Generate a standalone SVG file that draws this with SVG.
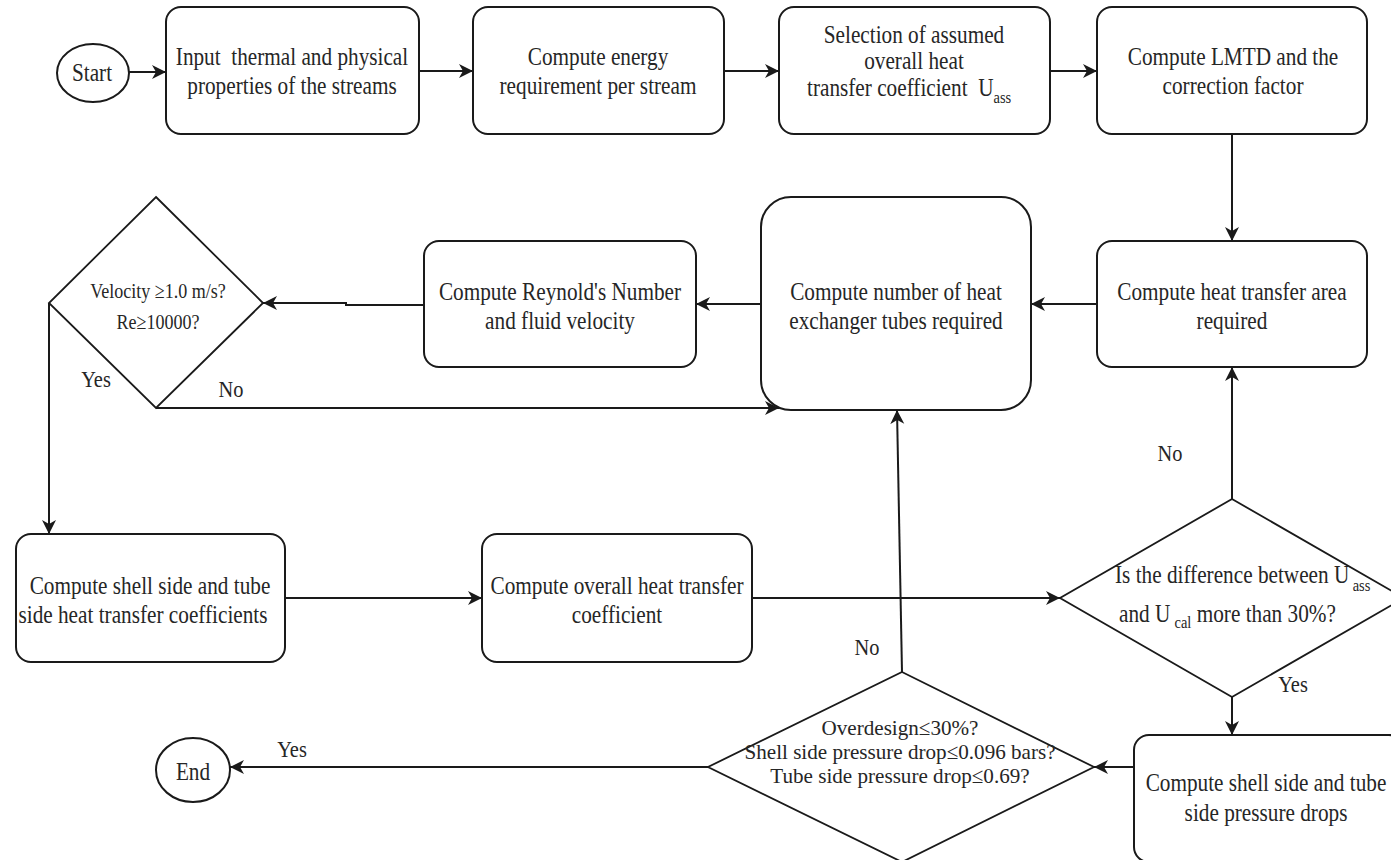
<svg xmlns="http://www.w3.org/2000/svg" width="1391" height="860" viewBox="0 0 1391 860">
  <style>
    .box{fill:#fff;stroke:#1a1a1a;stroke-width:2}
    .dia{fill:#fff;stroke:#1a1a1a;stroke-width:1.8}
    .edge{fill:none;stroke:#1a1a1a;stroke-width:2}
    .t{font-family:"Liberation Serif","Times New Roman","DejaVu Serif",serif;font-size:25px;fill:#262626;text-anchor:middle}
    .st{text-anchor:start}
    .sm{font-size:22px}
    .lbl{font-size:24px}
    .sub{font-size:17px}
  </style>
  <defs>
    <marker id="arr" markerWidth="15" markerHeight="15" refX="14" refY="7" orient="auto" markerUnits="userSpaceOnUse">
      <path d="M0,0 L14,7 L0,14 L4,7 Z" fill="#1a1a1a"/>
    </marker>
  </defs>

  <!-- connectors -->
  <g id="edges">
    <path class="edge" d="M129,72 H166" marker-end="url(#arr)"/>
    <path class="edge" d="M419,71 H473" marker-end="url(#arr)"/>
    <path class="edge" d="M724,71 H779" marker-end="url(#arr)"/>
    <path class="edge" d="M1050,71 H1097" marker-end="url(#arr)"/>
    <path class="edge" d="M1232,134 V241" marker-end="url(#arr)"/>
    <path class="edge" d="M1097,304 H1031" marker-end="url(#arr)"/>
    <path class="edge" d="M761,304 H696" marker-end="url(#arr)"/>
    <path class="edge" d="M424,305 H346 V303 H263" marker-end="url(#arr)"/>
    <path class="edge" d="M156,408 H779" marker-end="url(#arr)"/>
    <path class="edge" d="M49,303 V534" marker-end="url(#arr)"/>
    <path class="edge" d="M285,598 H482" marker-end="url(#arr)"/>
    <path class="edge" d="M752,598 H1060" marker-end="url(#arr)"/>
    <path class="edge" d="M1232,499 V367" marker-end="url(#arr)"/>
    <path class="edge" d="M1232,697 V735" marker-end="url(#arr)"/>
    <path class="edge" d="M1134,767 H1094" marker-end="url(#arr)"/>
    <path class="edge" d="M902,672 L897,410" marker-end="url(#arr)"/>
    <path class="edge" d="M708,767 H230" marker-end="url(#arr)"/>
  </g>

  <!-- branch labels -->
  <g id="labels">
    <text class="t lbl" transform="translate(96 0) scale(.85 1)" x="0" y="387">Yes</text>
    <text class="t lbl" transform="translate(231 0) scale(.85 1)" x="0" y="397">No</text>
    <text class="t lbl" transform="translate(1170 0) scale(.85 1)" x="0" y="461">No</text>
    <text class="t lbl" transform="translate(1293 0) scale(.85 1)" x="0" y="692">Yes</text>
    <text class="t lbl" transform="translate(867 0) scale(.85 1)" x="0" y="655">No</text>
    <text class="t lbl" transform="translate(292 0) scale(.85 1)" x="0" y="757">Yes</text>
  </g>

  <g id="start">
    <ellipse class="box" cx="93" cy="73" rx="36" ry="29"/>
    <text class="t" transform="translate(92 0) scale(.85 1)" x="0" y="81">Start</text>
  </g>

  <g id="input">
    <rect class="box" x="166" y="7" width="253" height="127" rx="15"/>
    <text class="t" xml:space="preserve" transform="translate(292 0) scale(.85 1)"><tspan x="0" y="65">Input  thermal and physical</tspan><tspan x="0" y="94">properties of the streams</tspan></text>
  </g>

  <g id="energy">
    <rect class="box" x="473" y="7" width="251" height="127" rx="15"/>
    <text class="t" transform="translate(598 0) scale(.85 1)"><tspan x="0" y="65">Compute energy</tspan><tspan x="0" y="94">requirement per stream</tspan></text>
  </g>

  <g id="selection">
    <rect class="box" x="779" y="7" width="271" height="127" rx="15"/>
    <text class="t" transform="translate(914 0) scale(.85 1)"><tspan x="0" y="43">Selection of assumed</tspan><tspan x="0" y="69">overall heat</tspan></text>
    <text class="t st" xml:space="preserve" transform="translate(807 0) scale(.85 1)" x="0" y="96">transfer coefficient  U<tspan class="sub" dy="7">ass</tspan></text>
  </g>

  <g id="lmtd">
    <rect class="box" x="1097" y="7" width="270" height="127" rx="15"/>
    <text class="t" transform="translate(1233 0) scale(.85 1)"><tspan x="0" y="65">Compute LMTD and the</tspan><tspan x="0" y="94">correction factor</tspan></text>
  </g>

  <g id="area">
    <rect class="box" x="1097" y="241" width="270" height="126" rx="15"/>
    <text class="t" transform="translate(1232 0) scale(.85 1)"><tspan x="0" y="300">Compute heat transfer area</tspan><tspan x="0" y="329">required</tspan></text>
  </g>

  <g id="tubes">
    <rect class="box" x="761" y="197" width="270" height="213" rx="30"/>
    <text class="t" transform="translate(896 0) scale(.85 1)"><tspan x="0" y="300">Compute number of heat</tspan><tspan x="0" y="329">exchanger tubes required</tspan></text>
  </g>

  <g id="reynolds">
    <rect class="box" x="424" y="241" width="272" height="126" rx="15"/>
    <text class="t" transform="translate(560 0) scale(.85 1)"><tspan x="0" y="300">Compute Reynold's Number</tspan><tspan x="0" y="329">and fluid velocity</tspan></text>
  </g>

  <g id="velocity">
    <polygon class="dia" points="156,197 263,303 156,408 49,303"/>
    <text class="t sm" transform="translate(158 0) scale(.82 1)"><tspan x="0" y="298">Velocity ≥1.0 m/s?</tspan><tspan x="0" y="329">Re≥10000?</tspan></text>
  </g>

  <g id="shell-coeff">
    <rect class="box" x="16" y="534" width="269" height="128" rx="15"/>
    <text class="t" transform="translate(150 0) scale(.85 1)" x="0" y="594">Compute shell side and tube</text>
    <text class="t" transform="translate(143 0) scale(.85 1)" x="0" y="623">side heat transfer coefficients</text>
  </g>

  <g id="overall">
    <rect class="box" x="482" y="534" width="270" height="128" rx="15"/>
    <text class="t" transform="translate(617 0) scale(.85 1)"><tspan x="0" y="594">Compute overall heat transfer</tspan><tspan x="0" y="623">coefficient</tspan></text>
  </g>

  <g id="difference">
    <polygon class="dia" points="1232,499 1404,598 1232,697 1060,598"/>
    <text class="t st" transform="translate(1115 0) scale(.85 1)" x="0" y="583">Is the difference between U<tspan class="sub" dx="4" dy="8">ass</tspan></text>
    <text class="t st" transform="translate(1119 0) scale(.85 1)" x="0" y="622">and U<tspan class="sub" dx="5" dy="6">cal</tspan><tspan dy="-6"> more than 30%?</tspan></text>
  </g>

  <g id="pressure">
    <rect class="box" x="1134" y="735" width="270" height="127" rx="15"/>
    <text class="t" transform="translate(1266 0) scale(.85 1)"><tspan x="0" y="791">Compute shell side and tube</tspan><tspan x="0" y="821">side pressure drops</tspan></text>
  </g>

  <g id="overdesign">
    <polygon class="dia" points="902,672 1094,767 902,862 708,767"/>
    <text class="t" style="font-size:22px" transform="translate(900 0) scale(.96 1)"><tspan x="0" y="735">Overdesign≤30%?</tspan><tspan x="0" y="759">Shell side pressure drop≤0.096 bars?</tspan><tspan x="0" y="783">Tube side pressure drop≤0.69?</tspan></text>
  </g>

  <g id="end">
    <ellipse class="box" cx="193" cy="770" rx="37" ry="32"/>
    <text class="t" transform="translate(193 0) scale(.85 1)" x="0" y="780">End</text>
  </g>
</svg>
